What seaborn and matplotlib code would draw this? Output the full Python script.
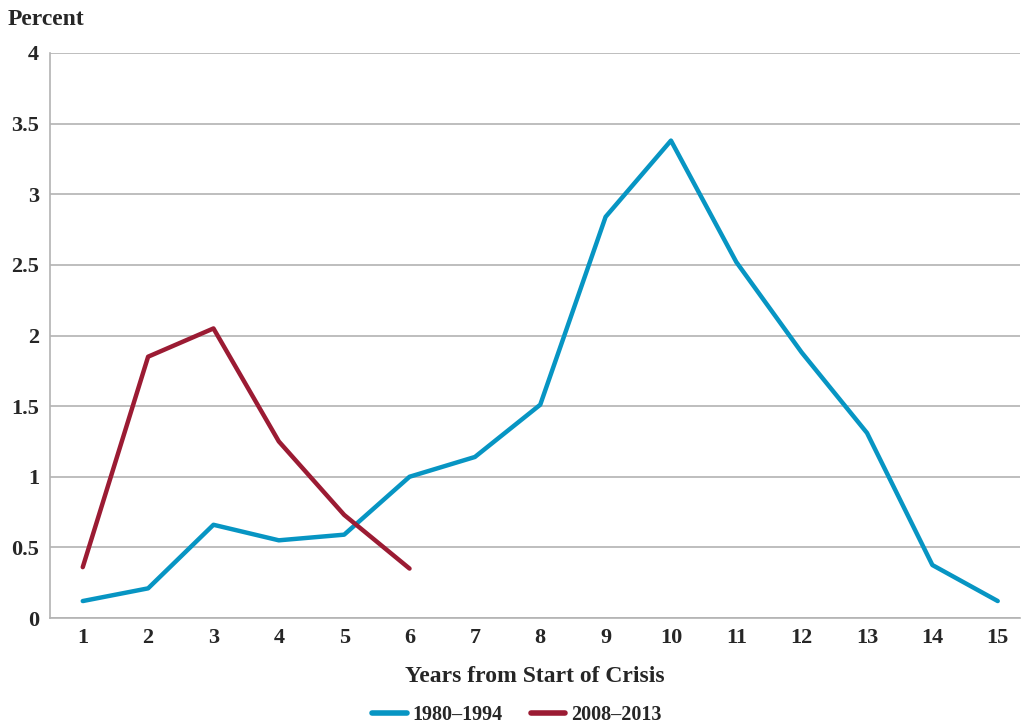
import numpy as np
import pandas as pd
import matplotlib
matplotlib.use("Agg")
import matplotlib.pyplot as plt
import seaborn as sns
from matplotlib.lines import Line2D

# years from start of crisis
years_a = [1, 2, 3, 4, 5, 6, 7, 8, 9, 10, 11, 12, 13, 14, 15]
pct_a = [0.12, 0.21, 0.66, 0.55, 0.59, 1.0, 1.14, 1.51, 2.84, 3.38, 2.52, 1.88, 1.31, 0.375, 0.12]
years_b = [1, 2, 3, 4, 5, 6]
pct_b = [0.36, 1.85, 2.05, 1.25, 0.73, 0.35]
labels = ["1980\u20131994", "2008\u20132013"]
colors = ["#0795C3", "#9B1B33"]

df = pd.concat([
    pd.DataFrame({"year": years_a, "pct": pct_a, "period": labels[0]}),
    pd.DataFrame({"year": years_b, "pct": pct_b, "period": labels[1]}),
])

sns.set_style("white")
plt.rcParams["font.family"] = ["Liberation Serif", "DejaVu Serif"]
plt.rcParams["font.weight"] = "bold"

fig = plt.figure(figsize=(10.22, 7.24), dpi=100)
ax = fig.add_axes([0.049, 0.1464, 0.949, 0.7804])

sns.lineplot(data=df, x="year", y="pct", hue="period", palette=colors,
             linewidth=3.2, ax=ax, legend=False)

ax.set_xlim(0.5, 15.34)
ax.set_ylim(0, 4)
ax.set_xticks(years_a)
ax.set_xticklabels([str(y) for y in years_a], fontsize=16, fontweight="bold")
ax.set_yticks(np.arange(0, 4.01, 0.5))
ax.set_yticklabels(["0", "0.5", "1", "1.5", "2", "2.5", "3", "3.5", "4"],
                   fontsize=16, fontweight="bold")
ax.yaxis.grid(True, color="#b3b3b3", linewidth=1.2)
ax.set_axisbelow(True)
for s in ["top", "right"]:
    ax.spines[s].set_visible(False)
ax.spines["left"].set_color("#b3b3b3")
ax.spines["bottom"].set_color("#b3b3b3")
ax.spines["left"].set_linewidth(1.2)
ax.spines["bottom"].set_linewidth(1.2)
ax.tick_params(axis="y", length=6, color="#b3b3b3", width=1.2, pad=2)
ax.tick_params(axis="x", length=0, pad=7)

ax.set_xlabel("Years from Start of Crisis", fontsize=17, fontweight="bold", labelpad=13)
ax.set_ylabel("")
fig.text(0.007, 0.973, "Percent", fontsize=17, fontweight="bold", ha="left", va="center")

handles = [Line2D([], [], color=c, linewidth=4) for c in colors]
fig.legend(handles, labels, loc="center", bbox_to_anchor=(0.506, 0.013), ncol=2,
           frameon=False, prop={"size": 14.5, "weight": "bold"},
           handlelength=1.7, columnspacing=1.4, handletextpad=0.3)

fig.savefig("out.png", dpi=100)
